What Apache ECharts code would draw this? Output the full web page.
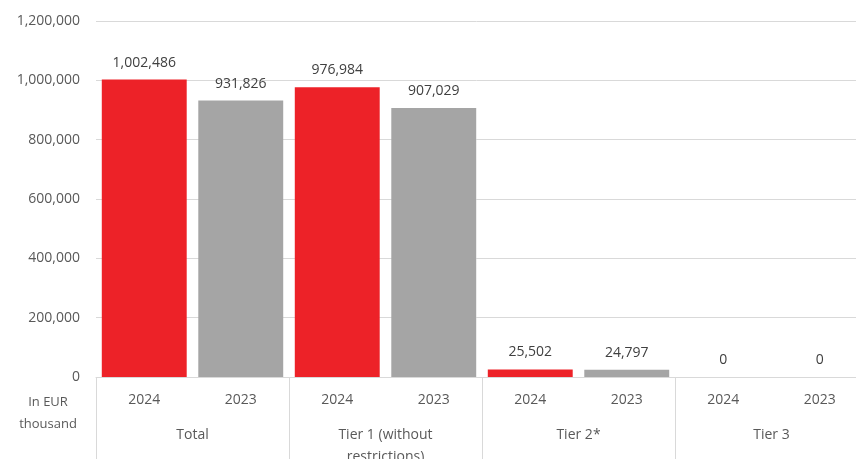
<!DOCTYPE html>
<html>
<head>
<meta charset="utf-8">
<script src="https://cdn.jsdelivr.net/npm/echarts@6/dist/echarts.min.js"></script>
<style>
  html, body { margin: 0; padding: 0; background: #fff; }
  #main { width: 856px; height: 459px; }
</style>
</head>
<body>
<div id="main"></div>
<script>
var years = ['2024', '2023', '2024', '2023', '2024', '2023', '2024', '2023'];
var groups = ['Total', 'Tier 1 (without\nrestrictions)', 'Tier 2*', 'Tier 3'];
var values = [1002486, 931826, 976984, 907029, 25502, 24797, 0, 0];
var yearColors = { '2024': '#ED2228', '2023': '#A5A5A5' };

var font = 'Open Sans';
var fmt = function (v) { return Number(v).toLocaleString('en-US'); };

var option = {
    animation: false,
    textStyle: { fontFamily: font },
    grid: { left: 96, right: -12, top: 21, bottom: 82, outerBoundsMode: 'none', containLabel: false },
    xAxis: [{
        type: 'category',
        data: years,
        axisLine: { lineStyle: { color: '#d9d9d9' } },
        axisTick: { show: false },
        axisLabel: { interval: 0, margin: 16, color: '#595959', fontSize: 14, fontFamily: font }
    }, {
        type: 'category',
        data: groups,
        position: 'bottom',
        axisLine: { show: false },
        axisTick: { show: true, length: 85, lineStyle: { color: '#d9d9d9' } },
        axisLabel: { interval: 0, margin: 47, color: '#595959', fontSize: 14, lineHeight: 22, fontFamily: font }
    }],
    yAxis: {
        type: 'value',
        min: 0,
        max: 1200000,
        interval: 200000,
        axisLine: { show: false },
        axisTick: { show: false },
        splitLine: { lineStyle: { color: '#d9d9d9' } },
        axisLabel: { margin: 16, color: '#595959', fontSize: 14, fontFamily: font, formatter: fmt }
    },
    series: [{
        type: 'bar',
        xAxisIndex: 0,
        barCategoryGap: '12%',
        data: values.map(function (v, i) {
            return { value: v, itemStyle: { color: yearColors[years[i]] } };
        }),
        label: {
            show: true,
            position: 'top',
            distance: 10,
            color: '#404040',
            fontSize: 14,
            fontFamily: font,
            formatter: function (p) { return fmt(p.value); }
        }
    }],
    graphic: [{
        type: 'text',
        x: 48,
        y: 391,
        style: {
            text: 'In EUR\nthousand',
            align: 'center',
            verticalAlign: 'top',
            fill: '#595959',
            font: '13px "Open Sans"',
            lineHeight: 22
        }
    }]
};

var myChart = echarts.init(document.getElementById('main'));
myChart.setOption(option);
</script>
</body>
</html>
